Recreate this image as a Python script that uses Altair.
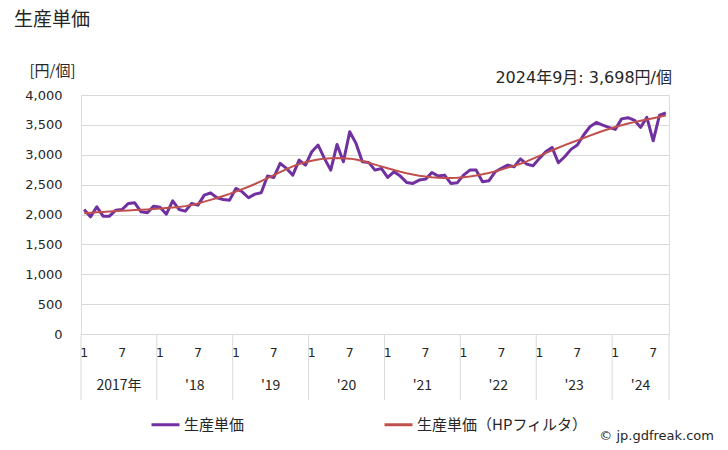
import altair as alt
import pandas as pd

START_YEAR = 2017
SERIES = ["生産単価", "生産単価（HPフィルタ）"]
COLORS = ["#7030A0", "#C0504D"]

values = [2084, 1960, 2128, 1972, 1972, 2073, 2084, 2185, 2196, 2045, 2028, 2140,
          2120, 2005, 2229, 2084, 2056, 2185, 2157, 2324, 2363, 2280, 2252, 2240,
          2436, 2380, 2280, 2341, 2363, 2643, 2620, 2855, 2771, 2659, 2910, 2827,
          3050, 3162, 2939, 2743, 3173, 2882, 3385, 3190, 2882, 2872, 2743, 2771,
          2620, 2715, 2643, 2537, 2520, 2576, 2592, 2704, 2643, 2659, 2520, 2530,
          2659, 2743, 2743, 2547, 2564, 2715, 2771, 2827, 2799, 2930, 2843, 2815,
          2939, 3050, 3123, 2866, 2966, 3090, 3162, 3330, 3469, 3542, 3497, 3458,
          3425, 3600, 3620, 3581, 3458, 3626, 3234, 3664, 3698]

trend = [2020, 2028, 2036, 2043, 2050, 2057, 2063, 2069, 2074, 2079, 2085, 2092,
         2100, 2108, 2117, 2127, 2140, 2160, 2185, 2215, 2245, 2275, 2310, 2345,
         2385, 2425, 2465, 2510, 2560, 2610, 2660, 2710, 2760, 2805, 2845, 2875,
         2900, 2920, 2935, 2942, 2945, 2942, 2935, 2920, 2895, 2865, 2835, 2805,
         2775, 2745, 2715, 2690, 2668, 2650, 2635, 2624, 2616, 2612, 2612, 2615,
         2622, 2635, 2652, 2672, 2695, 2722, 2752, 2785, 2815, 2850, 2890, 2935,
         2980, 3028, 3075, 3118, 3160, 3200, 3240, 3280, 3320, 3360, 3398, 3432,
         3465, 3495, 3522, 3546, 3568, 3590, 3612, 3635, 3658]

year_labels = ["2017年", "'18", "'19", "'20", "'21", "'22", "'23", "'24"]
month_tick_labels = [1, 7]
y_ticks = [0, 500, 1000, 1500, 2000, 2500, 3000, 3500, 4000]

N = len(values)
FONT = "DejaVu Sans, Noto Sans CJK JP, sans-serif"
JFONT = "Noto Sans CJK JP, DejaVu Sans, sans-serif"
TXT = "#262626"
GRID = "#d9d9d9"

W, H = 588, 239

rows = []
for i, v in enumerate(values):
    rows.append({"idx": i, "value": v, "series": SERIES[0]})
for i, v in enumerate(trend):
    rows.append({"idx": i, "value": v, "series": SERIES[1]})
df = pd.DataFrame(rows)

xscale = alt.Scale(domain=[0, N], nice=False, zero=False)
yscale = alt.Scale(domain=[0, 4000], nice=False)
cscale = alt.Scale(domain=SERIES, range=COLORS)

base = alt.Chart(df).transform_calculate(pos="datum.idx + 0.5")

legend = alt.Legend(
    title=None, orient="none", direction="horizontal",
    legendX=69, legendY=314, columnPadding=133, padding=0,
    symbolType="stroke", symbolSize=784, symbolStrokeWidth=3,
    labelFont=JFONT, labelFontSize=15, labelColor=TXT, labelOffset=3,
    labelLimit=300,
)

yaxis = alt.Axis(
    values=y_ticks, format=",d", grid=True, gridColor=GRID, gridWidth=1,
    domain=False, ticks=False, tickSize=0, labelPadding=19,
    labelFont=FONT, labelFontSize=13, labelColor=TXT,
    title="[円/個]", titleAngle=0, titleX=-29, titleY=-25,
    titleAlign="center", titleBaseline="middle",
    titleFont=JFONT, titleFontSize=15, titleFontWeight="normal", titleColor=TXT,
)

line_raw = base.transform_filter(alt.datum.series == SERIES[0]).mark_line(
    strokeWidth=3, strokeJoin="round"
).encode(
    x=alt.X("pos:Q", scale=xscale, axis=None),
    y=alt.Y("value:Q", scale=yscale, axis=yaxis),
    color=alt.Color("series:N", scale=cscale, legend=legend),
)

line_trend = base.transform_filter(alt.datum.series == SERIES[1]).mark_line(
    strokeWidth=2
).encode(
    x=alt.X("pos:Q", scale=xscale, axis=None),
    y=alt.Y("value:Q", scale=yscale, axis=yaxis),
    color=alt.Color("series:N", scale=cscale, legend=legend),
)

# year boundaries for the category box under the plot
n_years = (N + 11) // 12
bounds = pd.DataFrame({"b": [min(12 * j, N) for j in range(n_years)] + [N]})
rules = alt.Chart(bounds).mark_rule(color=GRID, strokeWidth=1).encode(
    x=alt.X("b:Q", scale=xscale, axis=None),
    y=alt.value(H), y2=alt.value(H + 66),
)

# month tick labels
mdf = pd.DataFrame([{"idx": i, "m": str(i % 12 + 1)} for i in range(N) if (i % 12 + 1) in month_tick_labels])
mlabels = alt.Chart(mdf).transform_calculate(pos="datum.idx + 0.5").mark_text(
    font=FONT, fontSize=12.5, color=TXT, baseline="middle", align="center"
).encode(
    x=alt.X("pos:Q", scale=xscale, axis=None), y=alt.value(H + 19), text="m:N",
)

# year labels
ydf = pd.DataFrame([{"s": 12 * j, "e": min(12 * j + 12, N), "lab": year_labels[j]} for j in range(n_years)])
ylabels = alt.Chart(ydf).transform_calculate(pos="(datum.s + datum.e) / 2").mark_text(
    font=JFONT, fontSize=14, color=TXT, baseline="middle", align="center"
).encode(
    x=alt.X("pos:Q", scale=xscale, axis=None), y=alt.value(H + 52), text="lab:N",
)

last_idx = N - 1
last_year = START_YEAR + last_idx // 12
last_month = last_idx % 12 + 1
note_text = f"{last_year}年{last_month}月: {values[-1]:,}円/個"
note = alt.Chart(pd.DataFrame({"t": [note_text]})).mark_text(
    font=FONT, fontSize=16, color=TXT, align="right", baseline="middle"
).encode(x=alt.value(591), y=alt.value(-17), text="t:N")

title = alt.Chart(pd.DataFrame({"t": ["生産単価"]})).mark_text(
    font=JFONT, fontSize=19, color=TXT, align="left", baseline="middle"
).encode(x=alt.value(-67), y=alt.value(-75), text="t:N")

credit = alt.Chart(pd.DataFrame({"t": ["© jp.gdfreak.com"]})).mark_text(
    font=FONT, fontSize=13, color=TXT, align="right", baseline="middle"
).encode(x=alt.value(633), y=alt.value(341), text="t:N")

chart = alt.layer(rules, line_raw, line_trend, mlabels, ylabels, note, title, credit).resolve_axis(
    y="shared"
).properties(
    width=W, height=H,
    autosize=alt.AutoSizeParams(type="none"),
    padding={"left": 81, "top": 95, "right": 59, "bottom": 116},
).configure_view(stroke=None).configure(font=FONT, background="white")

chart.save("out.html", embed_options={"renderer": "svg", "actions": False})
